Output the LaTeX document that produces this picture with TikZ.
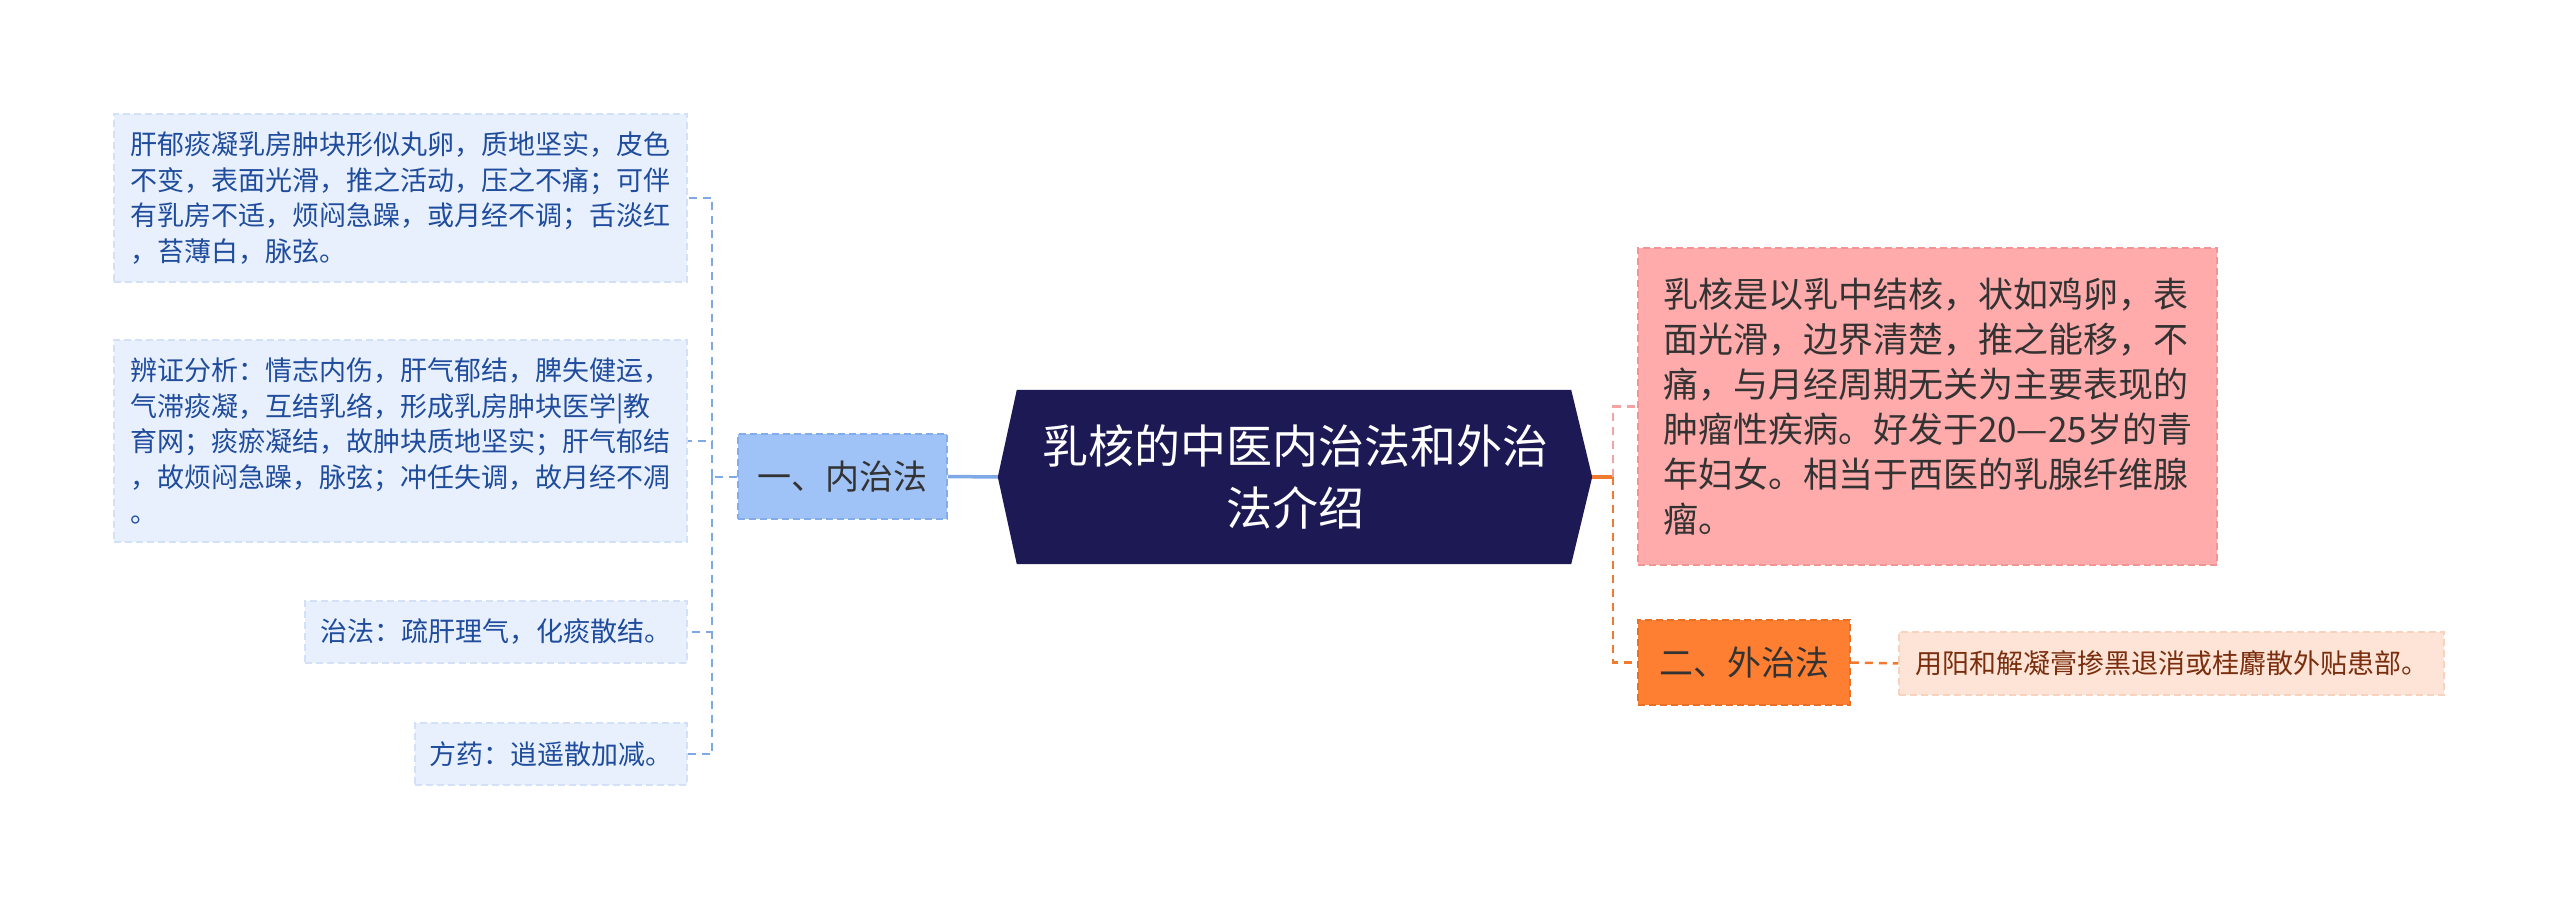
\documentclass[tikz,border=0pt]{standalone}
\usepackage{fontspec}
\newfontfamily\cjk{Noto Sans CJK SC}
\usetikzlibrary{backgrounds}
\definecolor{hexc}{HTML}{1C1955}
\definecolor{leaffill}{HTML}{E8F0FD}
\definecolor{leafdraw}{HTML}{D3E1F8}
\definecolor{leaftext}{HTML}{1F4C9C}
\definecolor{bluefill}{HTML}{A0C3F7}
\definecolor{bluedraw}{HTML}{84ACEA}
\definecolor{blueline}{HTML}{7FA8E6}
\definecolor{pinkfill}{HTML}{FFABAB}
\definecolor{pinkdraw}{HTML}{F39494}
\definecolor{pinkline}{HTML}{F4A3A3}
\definecolor{orangefill}{HTML}{FF7F32}
\definecolor{orangedraw}{HTML}{E96E26}
\definecolor{orangeline}{HTML}{F07A30}
\definecolor{peachfill}{HTML}{FDE4D6}
\definecolor{peachdraw}{HTML}{F9D2BD}
\definecolor{peachtext}{HTML}{7A2E0E}
\definecolor{darktext}{HTML}{333333}
\begin{document}
\begin{tikzpicture}[x=1pt,y=-1pt,
  box/.style={inner sep=0pt, align=left, line width=1.5pt, dash pattern=on 7pt off 4pt},
  leafbox/.style={box, fill=leaffill, draw=leafdraw, text=leaftext, font=\cjk\fontsize{27}{35.5}\selectfont},
  bluebox/.style={box, fill=bluefill, draw=bluedraw, text=darktext, font=\cjk\fontsize{34}{42}\selectfont},
  pinkbox/.style={box, fill=pinkfill, draw=pinkdraw, text=darktext, font=\cjk\fontsize{35}{45}\selectfont},
  orangebox/.style={box, fill=orangefill, draw=orangedraw, text=darktext, font=\cjk\fontsize{34}{42}\selectfont},
  peachbox/.style={box, fill=peachfill, draw=peachdraw, text=peachtext, font=\cjk\fontsize{27}{35}\selectfont},
  hextext/.style={inner sep=0pt, align=center, text=white, font=\cjk\fontsize{46}{62}\selectfont},
  bluedash/.style={draw=blueline, line width=2pt, dash pattern=on 8pt off 6pt},
  pinkdash/.style={draw=pinkline, line width=2.5pt, dash pattern=on 8pt off 6pt},
  orangedash/.style={draw=orangeline, line width=2.5pt, dash pattern=on 8pt off 6pt}
]
\useasboundingbox (0,0) rectangle (2560,901);

% central hexagon text
\node[hextext, minimum width=594pt, minimum height=174pt] (hex) at (1295,477) {乳核的中医内治法和外治\\法介绍};
\begin{scope}[on background layer]
\fill[white] (0,0) rectangle (2560,901);
\fill[hexc] (hex.west) -- ([xshift=19pt]hex.north west) -- ([xshift=-21pt]hex.north east)
  -- (hex.east) -- ([xshift=-21pt]hex.south east) -- ([xshift=19pt]hex.south west) -- cycle;
\end{scope}

% left branch
\node[bluebox, minimum width=209pt, minimum height=85pt] (inner) at (842.5,476.5) {一、内治法};
\node[leafbox, minimum width=573pt, minimum height=168pt] (l1) at (400.5,198) {肝郁痰凝乳房肿块形似丸卵，质地坚实，皮色\\不变，表面光滑，推之活动，压之不痛；可伴\\有乳房不适，烦闷急躁，或月经不调；舌淡红\\，苔薄白，脉弦。};
\node[leafbox, minimum width=573pt, minimum height=202pt] (l2) at (400.5,441) {辨证分析：情志内伤，肝气郁结，脾失健运，\\气滞痰凝，互结乳络，形成乳房肿块医学|教\\育网；痰瘀凝结，故肿块质地坚实；肝气郁结\\，故烦闷急躁，脉弦；冲任失调，故月经不凋\\。};
\node[leafbox, minimum width=382pt, minimum height=62pt] (l3) at (496,632) {治法：疏肝理气，化痰散结。};
\node[leafbox, minimum width=272pt, minimum height=62pt] (l4) at (551,754) {方药：逍遥散加减。};

\coordinate (ls) at (712,476.5);
\draw[blueline, line width=3.5pt] (hex.west) -- (inner.east);
\draw[bluedash] (inner.west) -- (ls);
\draw[bluedash] (ls) |- (l1.east);
\draw[bluedash] (ls) |- (l2.east);
\draw[bluedash] (ls) |- (l3.east);
\draw[bluedash] (ls) |- (l4.east);

% right branch
\node[pinkbox, minimum width=579pt, minimum height=317pt] (pink) at (1927.5,406.5) {乳核是以乳中结核，状如鸡卵，表\\面光滑，边界清楚，推之能移，不\\痛，与月经周期无关为主要表现的\\肿瘤性疾病。好发于20—25岁的青\\年妇女。相当于西医的乳腺纤维腺\\瘤。};
\node[orangebox, minimum width=212pt, minimum height=85pt] (outer) at (1744,662.5) {二、外治法};
\node[peachbox, minimum width=545pt, minimum height=63pt] (r1) at (2171.5,663.5) {用阳和解凝膏掺黑退消或桂麝散外贴患部。};

\coordinate (rs) at (1613,477);
\draw[orangeline, line width=3.5pt] (hex.east) -- (rs);
\draw[pinkdash] (rs) |- (pink.west);
\draw[orangedash] (rs) |- (outer.west);
\draw[orangedash] (outer.east) -- (r1.west);
\end{tikzpicture}
\end{document}
